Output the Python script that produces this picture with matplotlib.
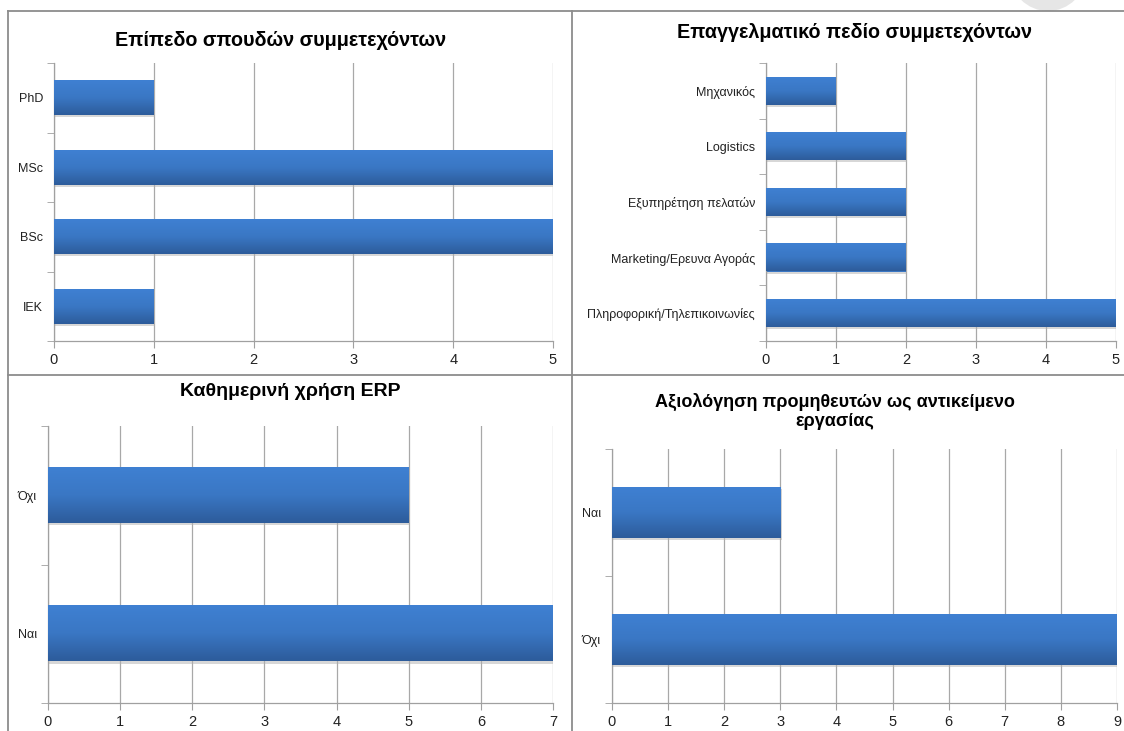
import numpy as np
import matplotlib
matplotlib.use("Agg")
import matplotlib.pyplot as plt
import matplotlib.patheffects as pe
from matplotlib.lines import Line2D
from matplotlib.patches import Ellipse

plt.rcParams['font.family'] = ['Liberation Sans', 'DejaVu Sans']

W, H = 1124, 731

# data, listed bottom to top
edu_labels = ['IEK', 'BSc', 'MSc', 'PhD']
edu_values = [1, 5, 5, 1]

field_labels = ['Πληροφορική/Τηλεπικοινωνίες', 'Marketing/Ερευνα Αγοράς',
                'Εξυπηρέτηση πελατών', 'Logistics', 'Μηχανικός']
field_values = [5, 2, 2, 2, 1]

erp_labels = ['Ναι', 'Όχι']
erp_values = [7, 5]

eval_labels = ['Όχι', 'Ναι']
eval_values = [9, 3]

grad = np.linspace(0, 1, 64).reshape(-1, 1)
bar_cmap = matplotlib.colors.LinearSegmentedColormap.from_list(
    'bar', ['#2d5c9b', '#3a77c4', '#3f80d2'])


def px_axes(fig, x0, y0, x1, y1):
    # axes placed by pixel box (left, top, right, bottom)
    return fig.add_axes([x0 / W, 1 - y1 / H, (x1 - x0) / W, (y1 - y0) / H])


def bar_panel(ax, labels, values, xmax, height, title, title_xy, label_size=9, title_size=14):
    n = len(labels)
    pos = np.arange(n)
    bars = ax.barh(pos, values, height=height, color='#3a77c4', zorder=2,
                   path_effects=[pe.SimplePatchShadow(offset=(1, -1.5), shadow_rgbFace='#b0b0b0', alpha=0.5),
                                 pe.Normal()])
    for b in bars:
        x, y = b.get_x(), b.get_y()
        # dark at the bottom edge, light at the top
        ax.imshow(grad, extent=[x, x + b.get_width(), y, y + b.get_height()],
                  origin='lower', cmap=bar_cmap, aspect='auto', zorder=3)
    ax.set_xlim(0, xmax)
    ax.set_ylim(-0.5, n - 0.5)
    ax.set_xticks(np.arange(0, xmax + 1))
    ax.set_yticks(pos)
    ax.set_yticklabels(labels, fontsize=label_size, color='#222222')
    ax.set_yticks(np.arange(n + 1) - 0.5, minor=True)
    ax.tick_params(axis='y', which='major', length=0, pad=8)
    ax.tick_params(axis='y', which='minor', length=5, color='#a0a0a0', direction='out')
    ax.tick_params(axis='x', length=5, color='#a0a0a0', labelsize=10.5, pad=4, labelcolor='#222222')
    ax.grid(axis='x', color='#a8a8a8', linewidth=0.9, zorder=0)
    ax.set_axisbelow(True)
    for s in ['top', 'right']:
        ax.spines[s].set_visible(False)
    for s in ['left', 'bottom']:
        ax.spines[s].set_color('#a0a0a0')
        ax.spines[s].set_linewidth(0.9)
    fig.text(title_xy[0] / W, 1 - title_xy[1] / H, title, ha='center', va='center',
             fontsize=title_size, fontweight='bold', color='black', linespacing=1.15)


fig = plt.figure(figsize=(W / 100, H / 100), dpi=100)
fig.patch.set_facecolor('white')

# faint page mark in the top right corner
fig.add_artist(Ellipse((1048 / W, 1 + 27 / H), 76 / W, 76 / H, transform=fig.transFigure,
                       facecolor='#e6e6e6', edgecolor='none'))

ax1 = px_axes(fig, 54, 63, 553, 341)
bar_panel(ax1, edu_labels, edu_values, 5, 0.5, 'Επίπεδο σπουδών συμμετεχόντων', (281, 40), 9, 14.2)

ax2 = px_axes(fig, 766, 63, 1116, 341)
bar_panel(ax2, field_labels, field_values, 5, 0.5, 'Επαγγελματικό πεδίο συμμετεχόντων', (854, 33), 9, 14.2)

ax3 = px_axes(fig, 48, 426, 553, 703)
bar_panel(ax3, erp_labels, erp_values, 7, 0.4, 'Καθημερινή χρήση ERP', (290, 392), 9, 14)

ax4 = px_axes(fig, 612, 449, 1117, 703)
bar_panel(ax4, eval_labels, eval_values, 9, 0.4,
          'Αξιολόγηση προμηθευτών ως αντικείμενο\nεργασίας', (835, 411), 9, 13)

# panel frames
frame = dict(color='#8c8c8c', linewidth=1.3, transform=fig.transFigure)
fig.add_artist(Line2D([8 / W, 8 / W], [0, 1 - 11 / H], **frame))
fig.add_artist(Line2D([572 / W, 572 / W], [0, 1 - 11 / H], **frame))
fig.add_artist(Line2D([8 / W, 1], [1 - 11 / H, 1 - 11 / H], **frame))
fig.add_artist(Line2D([8 / W, 1], [1 - 375 / H, 1 - 375 / H], **frame))

fig.savefig('out.png', dpi=100)
